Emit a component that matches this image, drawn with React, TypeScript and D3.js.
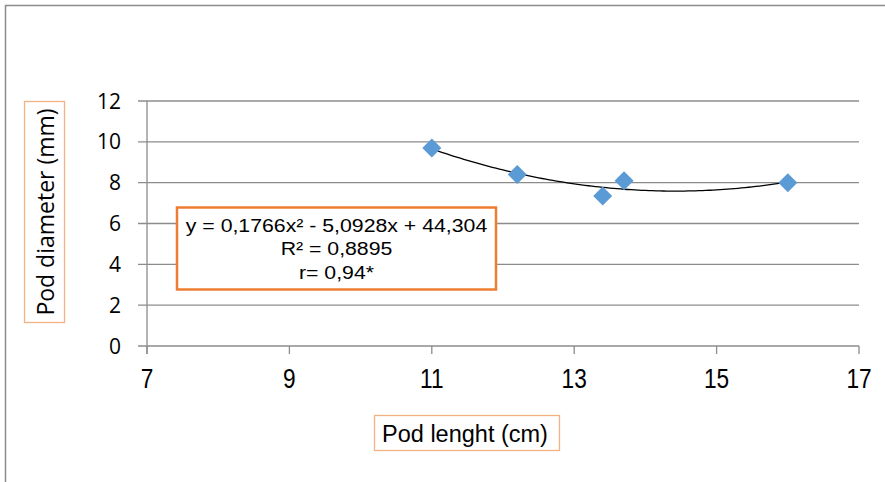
import React from "react";
import * as d3 from "d3";

const xValues = [11, 12.2, 13.4, 13.7, 16];
const yValues = [9.7, 8.4, 7.35, 8.1, 8.0];
const xTicks = [7, 9, 11, 13, 15, 17];
const yTicks = [0, 2, 4, 6, 8, 10, 12];
const coef = [0.1766, -5.0928, 44.304];
const eqLines = ["y = 0,1766x² - 5,0928x + 44,304", "R² = 0,8895", "r= 0,94*"];
const xTitle = "Pod lenght (cm)";
const yTitle = "Pod diameter (mm)";

export default function App() {
  const W = 885, H = 482;
  const x = d3.scaleLinear().domain([7, 17]).range([147, 859]);
  const y = d3.scaleLinear().domain([0, 12]).range([346, 101]);
  const fit = (v: number) => coef[0] * v * v + coef[1] * v + coef[2];
  const curvePts = d3.range(11, 16.001, 0.05).map((v) => [x(v), y(fit(v))] as [number, number]);
  const line = d3.line().curve(d3.curveLinear)(curvePts) || "";
  const ds = 9.5;
  const orange = "#ED7D31";
  const eqCx = 336.5;
  return (
    <svg width={W} height={H} style={{ position: "absolute", left: 0, top: 0, background: "#fff" }}>
      <rect x={5.5} y={5.5} width={W + 10} height={H + 10} fill="#fff" stroke="#8c8c8c" strokeWidth={1.5} />
      {yTicks.map((t) => (
        <g key={t}>
          <line x1={138} x2={859} y1={y(t)} y2={y(t)} stroke="#8c8c8c" strokeWidth={1.3} />
          <text x={121} y={y(t)} dy="0.36em" textAnchor="end" fontFamily="Open Sans, sans-serif" fontSize={21} fill="#000">{t}</text>
        </g>
      ))}
      <line x1={x(7)} x2={x(7)} y1={y(12)} y2={y(0) + 8} stroke="#8c8c8c" strokeWidth={1.3} />
      {xTicks.map((t) => (
        <g key={t}>
          <line x1={x(t)} x2={x(t)} y1={y(0)} y2={y(0) + 8} stroke="#8c8c8c" strokeWidth={1.3} />
          <text x={x(t)} y={388} textAnchor="middle" fontFamily="Liberation Sans, Arial, sans-serif" fontSize={27} fill="#000" transform={`translate(${x(t)},0) scale(0.84,1) translate(${-x(t)},0)`}>{t}</text>
        </g>
      ))}
      <path d={line} fill="none" stroke="#000" strokeWidth={1.3} />
      {xValues.map((v, i) => (
        <path key={i} d={`M${x(v)},${y(yValues[i]) - ds}L${x(v) + ds},${y(yValues[i])}L${x(v)},${y(yValues[i]) + ds}L${x(v) - ds},${y(yValues[i])}Z`} fill="#5B9BD5" />
      ))}
      <rect x={177} y={207.5} width={319} height={82} fill="#fff" stroke={orange} strokeWidth={2.5} />
      {eqLines.map((s, i) => (
        <text key={i} x={eqCx} y={232 + i * 23.5} textAnchor="middle" fontFamily="Liberation Sans, Arial, sans-serif" fontSize={19} fill="#000" transform={`translate(${eqCx},0) scale(1.12,1) translate(${-eqCx},0)`}>{s}</text>
      ))}
      <rect x={24.5} y={101.5} width={40} height={221} fill="#fff" stroke="#F4B183" strokeWidth={1.3} />
      <text transform={`translate(54,212) rotate(-90)`} textAnchor="middle" fontFamily="Open Sans, sans-serif" fontSize={23} fill="#000">{yTitle}</text>
      <rect x={374.5} y={415.5} width={185} height={35} fill="#fff" stroke="#F4B183" strokeWidth={1.3} />
      <text x={465} y={442} textAnchor="middle" fontFamily="Liberation Sans, Arial, sans-serif" fontSize={23.5} fill="#000">{xTitle}</text>
    </svg>
  );
}
